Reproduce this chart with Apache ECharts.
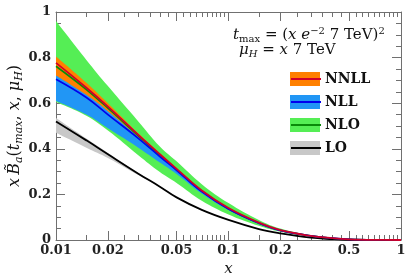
<!DOCTYPE html>
<html><head><meta charset="utf-8">
<script src="https://cdn.jsdelivr.net/npm/echarts@6/dist/echarts.min.js"></script>
<style>html,body{margin:0;padding:0;background:#fff}#c{width:407px;height:279px}</style>
</head><body><div id="c"></div>
<script>
const xs = [0.01, 0.015, 0.02, 0.03, 0.04, 0.05, 0.07, 0.1, 0.15, 0.2, 0.3, 0.4, 0.5, 0.7, 1.0];

const nnllC  = [0.777, 0.668, 0.585, 0.461, 0.376, 0.312, 0.217, 0.140, 0.076, 0.043, 0.018, 0.008, 0.003, 0.0005, 0];
const nnllLo = [0.722, 0.637, 0.565, 0.452, 0.370, 0.308, 0.214, 0.138, 0.075, 0.042, 0.018, 0.008, 0.003, 0.0005, 0];
const nnllHi = [0.805, 0.690, 0.600, 0.468, 0.381, 0.316, 0.220, 0.142, 0.078, 0.044, 0.019, 0.008, 0.003, 0.0005, 0];

const nllC  = [0.705, 0.625, 0.550, 0.446, 0.366, 0.306, 0.212, 0.136, 0.074, 0.042, 0.018, 0.008, 0.003, 0.0005, 0];
const nllLo = [0.610, 0.550, 0.490, 0.405, 0.340, 0.290, 0.204, 0.132, 0.072, 0.041, 0.017, 0.007, 0.003, 0.0005, 0];
const nllHi = [0.735, 0.655, 0.577, 0.460, 0.376, 0.314, 0.217, 0.139, 0.076, 0.043, 0.018, 0.008, 0.003, 0.0005, 0];

const nloC  = [0.762, 0.660, 0.578, 0.457, 0.372, 0.309, 0.214, 0.137, 0.074, 0.042, 0.018, 0.008, 0.003, 0.0005, 0];
const nloLo = [0.605, 0.545, 0.480, 0.372, 0.298, 0.250, 0.172, 0.112, 0.062, 0.036, 0.015, 0.006, 0.002, 0.0003, 0];
const nloHi = [0.960, 0.790, 0.675, 0.520, 0.410, 0.345, 0.245, 0.162, 0.088, 0.050, 0.021, 0.009, 0.004, 0.0007, 0];

const loC  = [0.520, 0.437, 0.376, 0.291, 0.234, 0.187, 0.132, 0.088, 0.048, 0.029, 0.010, 0.004, 0.001, 0.0002, 0];
const loLo = [0.470, 0.405, 0.360, 0.285, 0.231, 0.185, 0.131, 0.088, 0.048, 0.029, 0.010, 0.004, 0.001, 0.0002, 0];
const loHi = [0.535, 0.445, 0.382, 0.294, 0.236, 0.188, 0.133, 0.088, 0.048, 0.029, 0.010, 0.004, 0.001, 0.0002, 0];

const xMajorTicks = [0.01, 0.02, 0.05, 0.1, 0.2, 0.5, 1];
const xMinorTicks = [0.015, 0.025, 0.03, 0.035, 0.04, 0.045, 0.055, 0.06, 0.065, 0.07, 0.075, 0.08, 0.085, 0.09, 0.095,
                     0.15, 0.25, 0.3, 0.35, 0.4, 0.45, 0.55, 0.6, 0.65, 0.7, 0.75, 0.8, 0.85, 0.9, 0.95];
const legendNames = ['NNLL', 'NLL', 'NLO', 'LO'];

// [y, x] order so that stacking happens on y
const yxPairs = (ys) => xs.map((x, i) => [ys[i], x]);
const yxDiff = (hi, lo) => xs.map((x, i) => [hi[i] - lo[i], x]);
const pairs = (ys) => xs.map((x, i) => [x, ys[i]]);

const FONT = 'DejaVu Serif';
const AX = '#707070';
const SM = 0.4;

function band(name, lo, hi, color) {
  return [
    { name: name + '_base', type: 'line', stack: name, data: yxPairs(lo), encode: { x: 1, y: 0 }, symbol: 'none',
      smooth: SM, lineStyle: { width: 0, opacity: 0 }, silent: true },
    { name: name, type: 'line', stack: name, data: yxDiff(hi, lo), encode: { x: 1, y: 0 }, symbol: 'none', color: color,
      smooth: SM, lineStyle: { width: 0, opacity: 0 },
      areaStyle: { color: color, opacity: 1 } }
  ];
}
function line(name, ys, color, w) {
  return { name: name, type: 'line', data: pairs(ys), symbol: 'none', color: color,
    smooth: SM, lineStyle: { width: w, color: color } };
}

const series = [].concat(
  band('NLO', nloLo, nloHi, '#55ee55'),
  band('NLL', nllLo, nllHi, '#2196f5'),
  band('NNLL', nnllLo, nnllHi, '#ff8000'),
  band('LO', loLo, loHi, '#c8c8c8'),
  [line('LO ', loC, '#000000', 1.8),
   line('NLO ', nloC, '#0a8a0a', 1.6),
   line('NLL ', nllC, '#0000ee', 1.7),
   line('NNLL ', nnllC, '#d0002a', 1.8)]
);

const xBase = { type: 'log', logBase: 10, min: 0.01, max: 1, gridIndex: 0, splitLine: { show: false } };
const chart = echarts.init(document.getElementById('c'));
chart.setOption({
  animation: false,
  grid: { left: 56, right: 6, top: 12, bottom: 39, containLabel: false, outerBoundsMode: 'none' },
  xAxis: [
    Object.assign({}, xBase, {
      position: 'bottom',
      axisLine: { show: true, lineStyle: { color: AX, width: 1 } },
      axisTick: { show: true, inside: true, length: 9, customValues: xMajorTicks, lineStyle: { color: AX } },
      axisLabel: { show: true, customValues: xMajorTicks, margin: 4, color: '#222',
        fontFamily: FONT, fontWeight: 'bold', fontSize: 13,
        formatter: v => String(parseFloat(Number(v).toPrecision(3))) },
      name: 'x', nameLocation: 'middle', nameGap: 21,
      nameTextStyle: { fontFamily: FONT, fontStyle: 'italic', fontSize: 15, color: '#111' }
    }),
    Object.assign({}, xBase, {
      position: 'bottom', axisLine: { show: false },
      axisTick: { show: true, inside: true, length: 5, customValues: xMinorTicks, lineStyle: { color: AX } },
      axisLabel: { show: false }
    }),
    Object.assign({}, xBase, {
      position: 'top', axisLine: { show: true, lineStyle: { color: AX } },
      axisTick: { show: true, inside: true, length: 9, customValues: xMajorTicks, lineStyle: { color: AX } },
      axisLabel: { show: false }
    }),
    Object.assign({}, xBase, {
      position: 'top', axisLine: { show: false },
      axisTick: { show: true, inside: true, length: 5, customValues: xMinorTicks, lineStyle: { color: AX } },
      axisLabel: { show: false }
    })
  ],
  yAxis: [
    { type: 'value', min: 0, max: 1, interval: 0.2, position: 'left',
      axisLine: { show: true, lineStyle: { color: AX } },
      axisTick: { show: true, inside: true, length: 9, lineStyle: { color: AX } },
      minorTick: { show: true, splitNumber: 4, length: 5, lineStyle: { color: AX } },
      splitLine: { show: false },
      axisLabel: { color: '#222', fontFamily: FONT, fontWeight: 'bold', fontSize: 13, margin: 5,
        formatter: v => String(parseFloat(Number(v).toPrecision(3))) },
      name: '{i|x} {i|B\u0303}{sub|a}{n|(}{i|t}{sub|max}{n|, }{i|x}{n|, }{i|\u03bc}{sub|H}{n|)}',
      nameLocation: 'middle', nameRotate: 90, nameGap: 31, nameMoveOverlap: false,
      nameTextStyle: {
        rich: {
          i: { fontFamily: FONT, fontStyle: 'italic', fontSize: 16, lineHeight: 20, color: '#111', verticalAlign: 'middle' },
          n: { fontFamily: FONT, fontSize: 16, lineHeight: 20, color: '#111', verticalAlign: 'middle' },
          sub: { fontFamily: FONT, fontStyle: 'italic', fontSize: 11, lineHeight: 10, color: '#111', verticalAlign: 'bottom' }
        }
      }
    },
    { type: 'value', min: 0, max: 1, interval: 0.2, position: 'right',
      axisLine: { show: true, lineStyle: { color: AX } },
      axisTick: { show: true, inside: true, length: 9, lineStyle: { color: AX } },
      minorTick: { show: true, splitNumber: 4, length: 5, lineStyle: { color: AX } },
      splitLine: { show: false }, axisLabel: { show: false } }
  ],
  legend: [
    { data: legendNames, orient: 'vertical', left: 285, top: 67, itemWidth: 30, itemHeight: 14, itemGap: 9,
      icon: 'rect', itemStyle: { borderWidth: 0 }, z: 5,
      textStyle: { fontFamily: FONT, fontWeight: 'bold', fontSize: 14, lineHeight: 14, color: '#111' } },
    { data: legendNames.map(n => n + ' '), orient: 'vertical', left: 285, top: 67, itemWidth: 30, itemHeight: 14, itemGap: 9,
      z: 6, selectedMode: false,
      itemStyle: { color: 'rgba(0,0,0,0)', borderColor: 'rgba(0,0,0,0)', borderWidth: 0 },
      textStyle: { fontFamily: FONT, fontWeight: 'bold', fontSize: 14, lineHeight: 14, color: 'rgba(0,0,0,0)' } }
  ],
  graphic: [
    { type: 'text', left: 233, top: 26, z: 10,
      style: {
        text: '{i|t}{sub|max}{n| = (}{i|x e}{sup|\u22122}{n| 7 TeV)}{sup|2}',
        rich: {
          i: { fontFamily: FONT, fontStyle: 'italic', fontSize: 15, lineHeight: 18, fill: '#111', verticalAlign: 'middle' },
          n: { fontFamily: FONT, fontSize: 15, lineHeight: 18, fill: '#111', verticalAlign: 'middle' },
          sub: { fontFamily: FONT, fontSize: 10, lineHeight: 9, fill: '#111', verticalAlign: 'bottom' },
          sup: { fontFamily: FONT, fontSize: 10, lineHeight: 9, fill: '#111', verticalAlign: 'top' }
        }
      } },
    { type: 'text', left: 239, top: 43, z: 10,
      style: {
        text: '{i|\u03bc}{sub|H}{n| = }{i|x}{n| 7 TeV}',
        rich: {
          i: { fontFamily: FONT, fontStyle: 'italic', fontSize: 15, lineHeight: 18, fill: '#111', verticalAlign: 'middle' },
          n: { fontFamily: FONT, fontSize: 15, lineHeight: 18, fill: '#111', verticalAlign: 'middle' },
          sub: { fontFamily: FONT, fontStyle: 'italic', fontSize: 10, lineHeight: 9, fill: '#111', verticalAlign: 'bottom' }
        }
      } }
  ],
  series: series
});
</script></body></html>
